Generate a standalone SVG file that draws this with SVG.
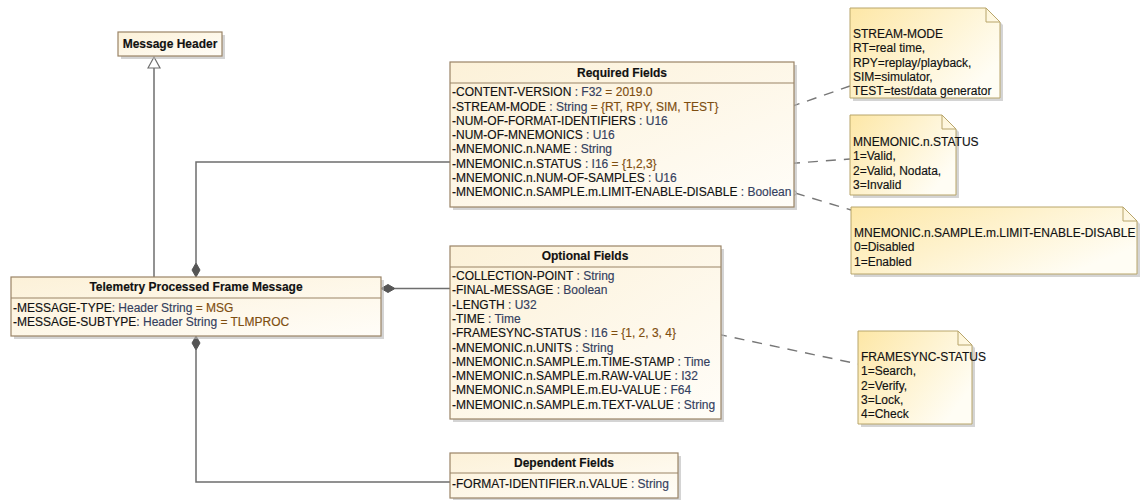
<svg xmlns="http://www.w3.org/2000/svg" width="1140" height="500" viewBox="0 0 1140 500">
<defs>
<linearGradient id="cls" x1="0" y1="0" x2="1" y2="1">
<stop offset="0" stop-color="#fcf1d8"/>
<stop offset="1" stop-color="#fffdf8"/>
</linearGradient>
<linearGradient id="note" x1="0" y1="0" x2="1" y2="0.6">
<stop offset="0" stop-color="#fde7a6"/>
<stop offset="1" stop-color="#fffdf4"/>
</linearGradient>
</defs>
<style>
text{font-family:"Liberation Sans",Arial,sans-serif;font-size:12px;fill:#111;stroke:#111;stroke-width:0.15}
.t{font-weight:bold;text-anchor:middle}
.ty{fill:#34405e;stroke:#34405e}
.v{fill:#7e4e10;stroke:#7e4e10}
.box{fill:url(#cls);stroke:#9a8466;stroke-width:1.2}
.sh{fill:#b8b8b8;opacity:0.6}
.div{stroke:#9a8466;stroke-width:1.2}
.nt{fill:url(#note);stroke:#b8a56a;stroke-width:1}
.fold{fill:none;stroke:#b8a56a;stroke-width:1}
.ln{fill:none;stroke:#6e6e6e;stroke-width:1.5}
.dash{fill:none;stroke:#777;stroke-width:1.4;stroke-dasharray:10,8}
.dia{fill:#555;stroke:#555;stroke-width:1}
.pt{fill:#fff;stroke:#888;stroke-width:1}
</style>
<rect width="1140" height="500" fill="#fff"/>

<g id="connectors">
<path class="ln" d="M154,278 V68"/>
<path d="M148,68 L154,57 L160,68 Z" fill="#fff" stroke="#6e6e6e" stroke-width="1.2"/>
<path class="ln" d="M196,263 V162 H450"/>
<path class="dia" d="M196,277 L192,270 L196,263 L200,270 Z"/>
<path class="ln" d="M395,288.5 H450"/>
<path class="dia" d="M381,288.5 L388,284.5 L395,288.5 L388,292.5 Z"/>
<path class="ln" d="M196,350 V482 H450"/>
<path class="dia" d="M196,336 L200,343 L196,350 L192,343 Z"/>
<path class="dash" d="M790,107 L850,86"/>
<path class="dash" d="M790,163.5 L850,159"/>
<path class="dash" d="M795,193 L851,210"/>
<path class="dash" d="M717,334 L858,364"/>
<circle class="pt" cx="789" cy="107" r="2.3"/>
<circle class="pt" cx="789" cy="163.5" r="2.3"/>
<circle class="pt" cx="794" cy="193" r="2.3"/>
<circle class="pt" cx="717" cy="334" r="2.3"/>
</g>

<g id="message-header">
<rect class="sh" x="121" y="35" width="104" height="24"/>
<rect class="box" x="118" y="32" width="104" height="24"/>
<text class="t" x="170" y="48">Message Header</text>
</g>

<g id="telemetry">
<rect class="sh" x="14" y="280" width="370" height="59"/>
<rect class="box" x="11" y="277" width="370" height="59"/>
<line class="div" x1="11" y1="298" x2="381" y2="298"/>
<text class="t" x="196" y="291">Telemetry Processed Frame Message</text>
<text x="13" y="312">-MESSAGE-TYPE<tspan class="ty">: Header String</tspan><tspan class="v"> = MSG</tspan></text>
<text x="13" y="326">-MESSAGE-SUBTYPE<tspan class="ty">: Header String</tspan><tspan class="v"> = TLMPROC</tspan></text>
</g>

<g id="required-fields">
<rect class="sh" x="453" y="65" width="344" height="145"/>
<rect class="box" x="450" y="62" width="344" height="145"/>
<line class="div" x1="450" y1="83" x2="794" y2="83"/>
<text class="t" x="622" y="77">Required Fields</text>
<text x="452" y="96">-CONTENT-VERSION<tspan class="ty"> : F32</tspan><tspan class="v"> = 2019.0</tspan></text>
<text x="452" y="110.5">-STREAM-MODE<tspan class="ty"> : String</tspan><tspan class="v"> = {RT, RPY, SIM, TEST}</tspan></text>
<text x="452" y="124.8">-NUM-OF-FORMAT-IDENTIFIERS<tspan class="ty"> : U16</tspan></text>
<text x="452" y="139.1">-NUM-OF-MNEMONICS<tspan class="ty"> : U16</tspan></text>
<text x="452" y="153.4">-MNEMONIC.n.NAME<tspan class="ty"> : String</tspan></text>
<text x="452" y="167.7">-MNEMONIC.n.STATUS<tspan class="ty"> : I16</tspan><tspan class="v"> = {1,2,3}</tspan></text>
<text x="452" y="182">-MNEMONIC.n.NUM-OF-SAMPLES<tspan class="ty"> : U16</tspan></text>
<text x="452" y="196.3">-MNEMONIC.n.SAMPLE.m.LIMIT-ENABLE-DISABLE<tspan class="ty"> : Boolean</tspan></text>
</g>

<g id="optional-fields">
<rect class="sh" x="453" y="249" width="271" height="173"/>
<rect class="box" x="450" y="246" width="271" height="173"/>
<line class="div" x1="450" y1="267" x2="721" y2="267"/>
<text class="t" x="585" y="260">Optional Fields</text>
<text x="452" y="280">-COLLECTION-POINT<tspan class="ty"> : String</tspan></text>
<text x="452" y="294.3">-FINAL-MESSAGE<tspan class="ty"> : Boolean</tspan></text>
<text x="452" y="308.6">-LENGTH<tspan class="ty"> : U32</tspan></text>
<text x="452" y="322.9">-TIME<tspan class="ty"> : Time</tspan></text>
<text x="452" y="337.2">-FRAMESYNC-STATUS<tspan class="ty"> : I16</tspan><tspan class="v"> = {1, 2, 3, 4}</tspan></text>
<text x="452" y="351.5">-MNEMONIC.n.UNITS<tspan class="ty"> : String</tspan></text>
<text x="452" y="365.8">-MNEMONIC.n.SAMPLE.m.TIME-STAMP<tspan class="ty"> : Time</tspan></text>
<text x="452" y="380.1">-MNEMONIC.n.SAMPLE.m.RAW-VALUE<tspan class="ty"> : I32</tspan></text>
<text x="452" y="394.4">-MNEMONIC.n.SAMPLE.m.EU-VALUE<tspan class="ty"> : F64</tspan></text>
<text x="452" y="408.7">-MNEMONIC.n.SAMPLE.m.TEXT-VALUE<tspan class="ty"> : String</tspan></text>
</g>

<g id="dependent-fields">
<rect class="sh" x="453" y="456" width="228" height="45"/>
<rect class="box" x="450" y="453" width="228" height="45"/>
<line class="div" x1="450" y1="473" x2="678" y2="473"/>
<text class="t" x="564" y="467">Dependent Fields</text>
<text x="452" y="488">-FORMAT-IDENTIFIER.n.VALUE<tspan class="ty"> : String</tspan></text>
</g>

<g id="note-stream-mode">
<path class="sh" d="M853,11 H989 L1003,25 V101 H853 Z"/>
<path class="nt" d="M850,8 H986 L1000,22 V98 H850 Z"/>
<path class="fold" d="M986,8 V22 H1000"/>
<text x="853" y="38">STREAM-MODE</text>
<text x="853" y="52.3">RT=real time,</text>
<text x="853" y="66.6">RPY=replay/playback,</text>
<text x="853" y="80.9">SIM=simulator,</text>
<text x="853" y="95.2">TEST=test/data generator</text>
</g>

<g id="note-status">
<path class="sh" d="M853,118 H945 L959,132 V198 H853 Z"/>
<path class="nt" d="M850,115 H942 L956,129 V195 H850 Z"/>
<path class="fold" d="M942,115 V129 H956"/>
<text x="853" y="146">MNEMONIC.n.STATUS</text>
<text x="853" y="160.3">1=Valid,</text>
<text x="853" y="174.6">2=Valid, Nodata,</text>
<text x="853" y="188.9">3=Invalid</text>
</g>

<g id="note-limit">
<path class="sh" d="M854,210 H1126 L1140,224 V277 H854 Z"/>
<path class="nt" d="M851,207 H1123 L1137,221 V274 H851 Z"/>
<path class="fold" d="M1123,207 V221 H1137"/>
<text x="854" y="237">MNEMONIC.n.SAMPLE.m.LIMIT-ENABLE-DISABLE</text>
<text x="854" y="251.3">0=Disabled</text>
<text x="854" y="265.6">1=Enabled</text>
</g>

<g id="note-framesync">
<path class="sh" d="M861,334 H961 L975,348 V427 H861 Z"/>
<path class="nt" d="M858,331 H958 L972,345 V424 H858 Z"/>
<path class="fold" d="M958,331 V345 H972"/>
<text x="861" y="361">FRAMESYNC-STATUS</text>
<text x="861" y="375.3">1=Search,</text>
<text x="861" y="389.6">2=Verify,</text>
<text x="861" y="403.9">3=Lock,</text>
<text x="861" y="418.2">4=Check</text>
</g>
</svg>
